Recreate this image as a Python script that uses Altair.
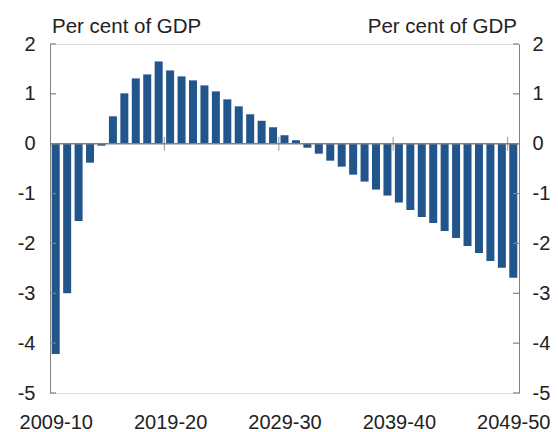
import altair as alt
import pandas as pd

years = [f"{y}-{str(y + 1)[-2:]}" for y in range(2009, 2050)]
values = [-4.22, -3.0, -1.55, -0.38, -0.04, 0.55, 1.01, 1.31, 1.39, 1.65,
          1.47, 1.35, 1.27, 1.17, 1.05, 0.89, 0.75, 0.59, 0.46, 0.33,
          0.17, 0.07, -0.08, -0.2, -0.34, -0.46, -0.62, -0.76, -0.92, -1.04,
          -1.18, -1.33, -1.47, -1.59, -1.75, -1.89, -2.05, -2.19, -2.35, -2.49,
          -2.69]
label_years = ["2009-10", "2019-20", "2029-30", "2039-40", "2049-50"]
y_ticks = [-5, -4, -3, -2, -1, 0, 1, 2]
unit_title = "Per cent of GDP"

W, H = 469, 349
BAR = "#22558c"
GRAY = "#808080"
TXT = "#222222"
FONT = "Liberation Sans"

df = pd.DataFrame({"idx": list(range(len(years))), "year": years, "value": values})
label_idx = [years.index(y) for y in label_years]
labels_js = "[" + ",".join(f"'{y}'" for y in years) + "]"

xscale = alt.Scale(domain=[-0.5, len(years) - 0.5], nice=False, zero=False, padding=0)
yscale = alt.Scale(domain=[-5, 2], nice=False, padding=0)

xaxis = alt.Axis(values=label_idx, labelExpr=f"{labels_js}[datum.value]",
                 domain=False, ticks=False, grid=False, title=None,
                 labelFontSize=20, labelColor=TXT, labelFont=FONT,
                 labelPadding=19, labelFlush=False, labelOverlap=False)

def yaxis(orient, pad):
    return alt.Axis(orient=orient, values=y_ticks, domain=True, domainColor=GRAY,
                    ticks=False, grid=False, title=None, labelFontSize=20,
                    labelColor=TXT, labelFont=FONT, labelPadding=pad,
                    labelFlush=False, labelExpr="toString(datum.value)")

bars = alt.Chart(df).mark_bar(color=BAR, size=8).encode(
    x=alt.X("idx:Q", scale=xscale, axis=xaxis),
    y=alt.Y("value:Q", scale=yscale, axis=yaxis("left", 15)),
)

zero = alt.Chart(pd.DataFrame({"v": [0]})).mark_rule(color=GRAY, strokeWidth=1.5).encode(
    y=alt.Y("v:Q", scale=yscale, axis=yaxis("right", 13)),
)

xt = pd.DataFrame({"pos": [i - 0.5 for i in label_idx[1:]], "v": [0] * (len(label_idx) - 1)})
xticks = alt.Chart(xt).mark_tick(color=GRAY, orient="vertical", size=14, thickness=1.2).encode(
    x=alt.X("pos:Q", scale=xscale, axis=xaxis), y=alt.Y("v:Q", scale=yscale, axis=None)
)

yt = pd.DataFrame({"t": y_ticks})
lticks = alt.Chart(yt).mark_rule(color=GRAY, strokeWidth=1.2).encode(
    x=alt.value(0), x2=alt.value(6), y=alt.Y("t:Q", scale=yscale, axis=None))
rticks = alt.Chart(yt).mark_rule(color=GRAY, strokeWidth=1.2).encode(
    x=alt.value(W - 6), x2=alt.value(W), y=alt.Y("t:Q", scale=yscale, axis=None))

ltitle = alt.Chart(pd.DataFrame({"t": [unit_title]})).mark_text(
    align="left", baseline="alphabetic", fontSize=20.5, font=FONT, color=TXT).encode(
    x=alt.value(2), y=alt.value(-11.5), text="t:N")
rtitle = alt.Chart(pd.DataFrame({"t": [unit_title]})).mark_text(
    align="right", baseline="alphabetic", fontSize=20.5, font=FONT, color=TXT).encode(
    x=alt.value(W - 2), y=alt.value(-11.5), text="t:N")

chart = alt.layer(bars, zero, xticks, lticks, rticks, ltitle, rtitle).resolve_axis(
    y="independent"
).properties(
    width=W, height=H,
    autosize=alt.AutoSizeParams(type="none"),
    padding={"left": 42, "top": 36, "right": 31, "bottom": 46},
).configure_view(stroke=None).configure(background="white")

chart.save("out.html", embed_options={"renderer": "svg", "actions": False})
